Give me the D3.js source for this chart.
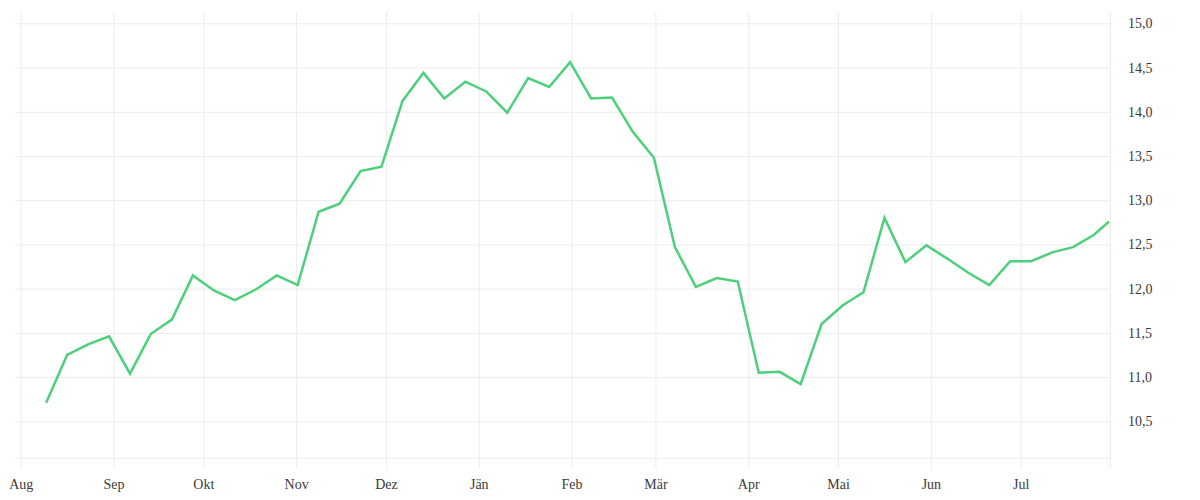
<!DOCTYPE html>
<html>
<head>
<meta charset="utf-8">
<script src="https://cdn.jsdelivr.net/npm/d3@7"></script>
<style>
  html, body { margin: 0; padding: 0; background: #fff; }
  svg { display: block; }
  .tick text { font-family: "Liberation Serif", serif; font-size: 14px; fill: #3a3a3a; }
</style>
</head>
<body>
<svg id="chart" width="1200" height="500"></svg>
<script>
// ---- data ----
const dates = [
  "2022-08-09","2022-08-16","2022-08-23","2022-08-30",
  "2022-09-06","2022-09-13","2022-09-20","2022-09-27",
  "2022-10-04","2022-10-11","2022-10-18","2022-10-25",
  "2022-11-01","2022-11-08","2022-11-15","2022-11-22","2022-11-29",
  "2022-12-06","2022-12-13","2022-12-20","2022-12-27",
  "2023-01-03","2023-01-10","2023-01-17","2023-01-24","2023-01-31",
  "2023-02-07","2023-02-14","2023-02-21","2023-02-28",
  "2023-03-07","2023-03-14","2023-03-21","2023-03-28",
  "2023-04-04","2023-04-11","2023-04-18","2023-04-25",
  "2023-05-02","2023-05-09","2023-05-16","2023-05-23","2023-05-30",
  "2023-06-06","2023-06-13","2023-06-20","2023-06-27",
  "2023-07-04","2023-07-11","2023-07-18","2023-07-25","2023-07-30"
];
const values = [
  10.71, 11.25, 11.37, 11.46,
  11.04, 11.49, 11.65, 12.15,
  11.98, 11.87, 11.99, 12.15,
  12.04, 12.87, 12.96, 13.33, 13.38,
  14.12, 14.44, 14.15, 14.34,
  14.23, 13.99, 14.38, 14.28, 14.56,
  14.15, 14.16, 13.77, 13.48,
  12.47, 12.02, 12.12, 12.08,
  11.05, 11.06, 10.92, 11.60,
  11.81, 11.96, 12.80, 12.30, 12.49,
  12.34, 12.18, 12.04, 12.31,
  12.31, 12.41, 12.47, 12.61, 12.76
];
const monthLabels = ["Aug","Sep","Okt","Nov","Dez","Jän","Feb","Mär","Apr","Mai","Jun","Jul"];
const yTickValues = [10.5, 11.0, 11.5, 12.0, 12.5, 13.0, 13.5, 14.0, 14.5, 15.0];
const xDomain = ["2022-08-01", "2023-07-31"];
const yDomain = [10.082, 15.128];

// ---- layout ----
const plotLeft = 20.7, plotRight = 1110.5, plotTop = 12, plotBottom = 458.3;
const gridLeft = 15.3, axisY = 468.7;
const gridColor = "#ececec";
const lineColor = "#4dd07b";

const parse = s => new Date(s + "T12:00:00");
const parseDay = s => new Date(s + "T00:00:00");

const svg = d3.select("#chart");
const x = d3.scaleTime().domain(xDomain.map(parseDay)).range([plotLeft, plotRight]);
const y = d3.scaleLinear().domain(yDomain).range([plotBottom, plotTop]);

const monthTicks = d3.timeMonth.range(parseDay(xDomain[0]), x.domain()[1]);

// Y axis (right side, gridlines extend left)
const yAxis = d3.axisRight(y)
  .tickValues(yTickValues)
  .tickSize(-(plotRight - gridLeft))
  .tickPadding(17.5)
  .tickFormat(d => d3.format(".1f")(d).replace(".", ","));
const gy = svg.append("g").attr("transform", `translate(${plotRight},0)`).call(yAxis);
gy.select(".domain").remove();
gy.selectAll(".tick line").attr("stroke", gridColor).attr("stroke-width", 1);
gy.selectAll(".tick text").attr("text-anchor", "start");

// bottom border line
svg.append("line")
  .attr("x1", gridLeft).attr("x2", plotRight)
  .attr("y1", plotBottom).attr("y2", plotBottom)
  .attr("stroke", gridColor).attr("stroke-width", 1);

// X axis (bottom, gridlines extend up)
const xAxis = d3.axisBottom(x)
  .tickValues(monthTicks)
  .tickSize(-(axisY - plotTop))
  .tickPadding(10.3)
  .tickFormat((d, i) => monthLabels[i]);
const gx = svg.append("g").attr("transform", `translate(0,${axisY})`).call(xAxis);
gx.select(".domain").remove();
gx.selectAll(".tick line").attr("stroke", gridColor).attr("stroke-width", 1);

// right edge line
svg.append("line")
  .attr("x1", plotRight).attr("x2", plotRight)
  .attr("y1", plotTop).attr("y2", axisY)
  .attr("stroke", gridColor).attr("stroke-width", 1);

// data line
const data = dates.map((d, i) => ({ date: parse(d), value: values[i] }));
const line = d3.line().x(d => x(d.date)).y(d => y(d.value));
svg.append("path")
  .datum(data)
  .attr("fill", "none")
  .attr("stroke", lineColor)
  .attr("stroke-width", 2.5)
  .attr("stroke-linejoin", "miter")
  .attr("d", line);
</script>
</body>
</html>
